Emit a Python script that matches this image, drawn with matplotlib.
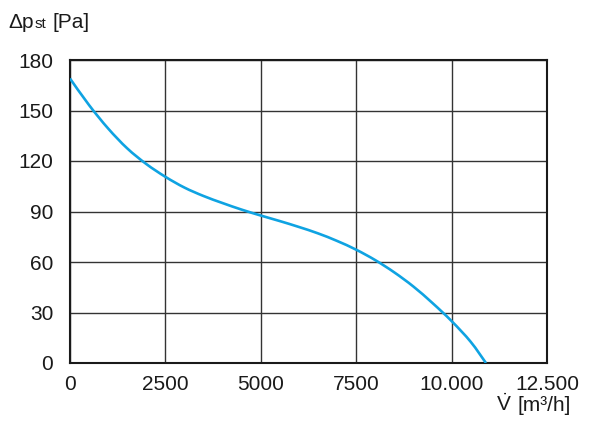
import matplotlib
matplotlib.use("Agg")
import matplotlib.pyplot as plt
from matplotlib.path import Path
from matplotlib.patches import PathPatch
import numpy as np

flow = [0, 500, 1000, 1500, 2000, 2500, 3000, 3500, 4000, 4500, 5000, 5500,
        6000, 6500, 7000, 7500, 8000, 8500, 9000, 9500, 10000, 10500, 10900]
pressure = [169, 153.2, 139.3, 127.5, 118.2, 110.6, 104.2, 99.2, 95.0, 91.1, 87.6, 84.3,
            80.8, 77.0, 72.5, 67.3, 61.1, 53.8, 45.4, 35.6, 24.9, 12.6, 0]
xticks = [0, 2500, 5000, 7500, 10000, 12500]
xticklabels = ["0", "2500", "5000", "7500", "10.000", "12.500"]
yticks = [0, 30, 60, 90, 120, 150, 180]

plt.rcParams['font.family'] = ['Liberation Sans', 'DejaVu Sans']
plt.rcParams['mathtext.fontset'] = 'custom'
plt.rcParams['mathtext.rm'] = 'Liberation Sans'
plt.rcParams['mathtext.it'] = 'Liberation Sans:italic'
plt.rcParams['mathtext.bf'] = 'Liberation Sans:bold'

fig = plt.figure(figsize=(6, 4.24), dpi=100)
ax = fig.add_axes([70/600, 61/424, 477/600, 303/424])

# smooth curve through the data points (Catmull-Rom -> cubic Bezier)
P = np.column_stack([flow, pressure]).astype(float)
verts = [tuple(P[0])]
codes = [Path.MOVETO]
n = len(P)
for i in range(n - 1):
    p0 = P[i - 1] if i > 0 else P[i]
    p1 = P[i]
    p2 = P[i + 1]
    p3 = P[i + 2] if i + 2 < n else P[i + 1]
    c1 = p1 + (p2 - p0) / 6.0
    c2 = p2 - (p3 - p1) / 6.0
    verts += [tuple(c1), tuple(c2), tuple(p2)]
    codes += [Path.CURVE4] * 3
curve = PathPatch(Path(verts, codes), facecolor="none", edgecolor="#0FA3E2",
                  lw=1.9, capstyle="butt", zorder=3)
ax.add_patch(curve)

ax.set_xlim(0, 12500)
ax.set_ylim(0, 180)
ax.set_xticks(xticks)
ax.set_xticklabels(xticklabels)
ax.set_yticks(yticks)
ax.grid(True, color="#333333", lw=1.0)
ax.set_axisbelow(True)
for s in ax.spines.values():
    s.set_color("#1a1a1a")
    s.set_linewidth(1.5)
ax.tick_params(length=0, labelsize=15, colors="#1a1a1a")
ax.tick_params(axis="x", pad=9)
ax.tick_params(axis="y", pad=12)

fig.text(8/600, 1 - 28/424, "\u0394p", fontsize=15, ha="left", va="baseline", color="#1a1a1a")
fig.text(35/600, 1 - 28/424, "st", fontsize=11, ha="left", va="baseline", color="#1a1a1a")
fig.text(53/600, 1 - 28/424, "[Pa]", fontsize=15, ha="left", va="baseline", color="#1a1a1a")
fig.text(571/600, 1 - 411/424, "[m\u00b3/h]", fontsize=15,
         ha="right", va="baseline", color="#1a1a1a")
fig.text(512/600, 1 - 411/424, r"$\dot{\mathrm{V}}$", fontsize=15,
         ha="right", va="baseline", color="#1a1a1a")

fig.savefig("out.png", dpi=100)
